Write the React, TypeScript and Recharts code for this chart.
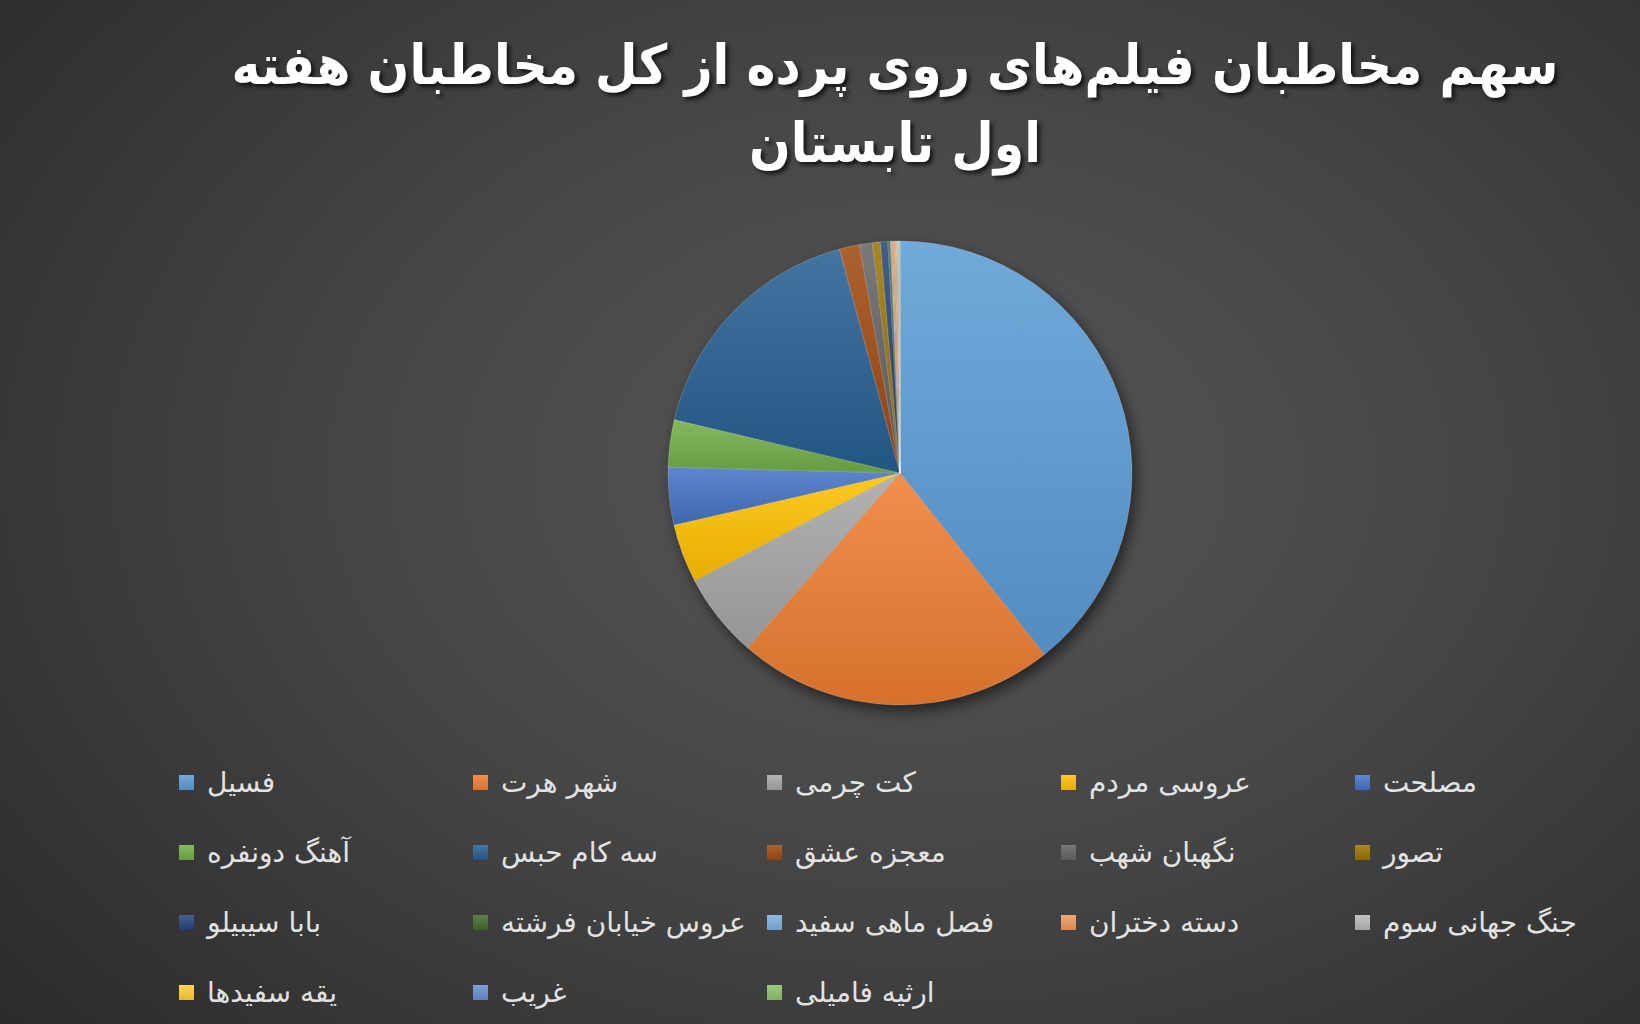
import { PieChart, Pie, Cell, Legend } from 'recharts'

// films in the order Excel draws them, clockwise from 12 o'clock
const films = [
  'فسیل',
  'شهر هرت',
  'کت چرمی',
  'عروسی مردم',
  'مصلحت',
  'آهنگ دونفره',
  'سه کام حبس',
  'معجزه عشق',
  'نگهبان شهب',
  'تصور',
  'بابا سیبیلو',
  'عروس خیابان فرشته',
  'فصل ماهی سفید',
  'دسته دختران',
  'جنگ جهانی سوم',
  'یقه سفیدها',
  'غریب',
  'ارثیه فامیلی',
]

// audience share (%)
const shares = [39.3, 22.1, 5.9, 4.1, 4.0, 3.3, 17.1, 1.4, 0.9, 0.55, 0.52, 0.17, 0.11, 0.26, 0.17, 0.07, 0.03, 0.02]

const colors = [
  '#5B9BD5', '#ED7D31', '#A5A5A5', '#FFC000', '#4472C4', '#70AD47',
  '#255E91', '#9E480E', '#636363', '#997300', '#264478', '#43682B',
  '#7CAFDD', '#F1975A', '#B7B7B7', '#FFCD33', '#698ED0', '#8CC168',
]

const titleLines = ['سهم مخاطبان فیلم‌های روی پرده از کل مخاطبان هفته', 'اول تابستان']

const data = films.map((name, i) => ({ name, value: shares[i] }))

const FONT = '"DejaVu Sans", sans-serif'

// mix a hex colour toward white (amt > 0) or black (amt < 0)
function shade(hex: string, amt: number) {
  const n = parseInt(hex.slice(1), 16)
  const ch = [(n >> 16) & 255, (n >> 8) & 255, n & 255].map((c) =>
    Math.round(amt >= 0 ? c + (255 - c) * amt : c * (1 + amt))
  )
  return '#' + ch.map((c) => c.toString(16).padStart(2, '0')).join('')
}

const renderLegend = (props: any) => {
  // keep the series order, not the alphabetical one
  const payload = [...(props.payload || [])].sort(
    (a: any, b: any) => films.indexOf(a.value) - films.indexOf(b.value)
  )
  return (
    <div
      style={{
        display: 'grid',
        gridTemplateColumns: 'repeat(5, 294px)',
        gridAutoRows: '70px',
        fontFamily: FONT,
        fontSize: 28,
        color: '#e2e2e2',
      }}
    >
      {payload.map((entry: any) => {
        const c = colors[films.indexOf(entry.value)]
        return (
          <div key={entry.value} style={{ display: 'flex', alignItems: 'center' }}>
            <span
              style={{
                width: 15,
                height: 15,
                marginRight: 13,
                flex: '0 0 auto',
                background: `linear-gradient(${shade(c, 0.15)}, ${shade(c, -0.1)})`,
              }}
            />
            <span style={{ direction: 'rtl', whiteSpace: 'nowrap' }}>{entry.value}</span>
          </div>
        )
      })}
    </div>
  )
}

export default function App() {
  return (
    <div
      style={{
        position: 'relative',
        width: 1640,
        height: 1024,
        overflow: 'hidden',
        background: 'radial-gradient(ellipse 75% 85% at 56% 46%, #575757 0%, #464646 45%, #2a2a2a 100%)',
      }}
    >
      <style>{`
        body { margin: 0; }
        .recharts-pie { filter: drop-shadow(4px 6px 7px rgba(0,0,0,0.55)); }
      `}</style>

      {/* title */}
      <div
        style={{
          position: 'absolute',
          left: 0,
          top: 27,
          width: 1790,
          textAlign: 'center',
          direction: 'rtl',
          fontFamily: FONT,
          fontWeight: 'bold',
          fontSize: 49,
          lineHeight: '78px',
          color: '#ffffff',
          textShadow: '3px 3px 4px rgba(0,0,0,0.7)',
          zIndex: 2,
        }}
      >
        {titleLines.map((t) => (
          <div key={t} style={{ transform: 'scaleY(1.12)' }}>{t}</div>
        ))}
      </div>

      <PieChart
        width={1640}
        height={1024}
        margin={{ top: 0, right: 0, bottom: 0, left: 0 }}
        style={{ position: 'absolute', left: 0, top: 0 }}
      >
        <defs>
          {colors.map((c, i) => (
            <linearGradient key={i} id={`slice-${i}`} x1="0" y1="0" x2="0" y2="1">
              <stop offset="0%" stopColor={shade(c, 0.14)} />
              <stop offset="100%" stopColor={shade(c, -0.1)} />
            </linearGradient>
          ))}
        </defs>
        <Pie
          data={data}
          dataKey="value"
          nameKey="name"
          cx={900}
          cy={473}
          outerRadius={232}
          startAngle={90}
          endAngle={-270}
          stroke="rgba(255,255,255,0.25)"
          strokeWidth={0.75}
          isAnimationActive={false}
        >
          {data.map((d, i) => (
            <Cell key={d.name} fill={`url(#slice-${i})`} />
          ))}
        </Pie>
        <Legend
          verticalAlign="bottom"
          align="left"
          content={renderLegend}
          wrapperStyle={{ left: 179, top: 747, bottom: 'auto', width: 1470 }}
        />
      </PieChart>
    </div>
  )
}
